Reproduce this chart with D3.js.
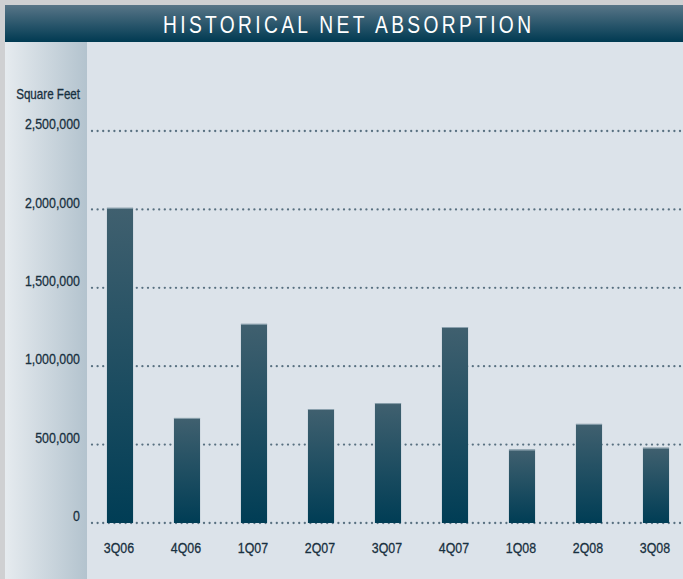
<!DOCTYPE html>
<html>
<head>
<meta charset="utf-8">
<script src="https://cdn.jsdelivr.net/npm/d3@7"></script>
<style>
  html, body { margin: 0; padding: 0; background: #cfd0d2; }
  svg { display: block; }
</style>
</head>
<body>
<div id="chart"></div>
<script>
(function drawAbsorption() {
    const quarters = ["3Q06", "4Q06", "1Q07", "2Q07", "3Q07", "4Q07", "1Q08", "2Q08", "3Q08"];
    const absorption = [2010000, 670000, 1270000, 727000, 765000, 1250000, 468000, 632000, 480000];
    const tickValues = [0, 500000, 1000000, 1500000, 2000000, 2500000];

    const width = 683;
    const height = 579;
    const font = "'Liberation Sans', Arial, sans-serif";
    const narrow = 0.8;
    const textColor = "#183040";

    const svg = d3.select("#chart").append("svg")
        .attr("width", width)
        .attr("height", height);

    const defs = svg.append("defs");

    const titleGrad = defs.append("linearGradient")
        .attr("id", "title-grad").attr("x1", 0).attr("y1", 0).attr("x2", 0).attr("y2", 1);
    titleGrad.append("stop").attr("offset", "0%").attr("stop-color", "#587587");
    titleGrad.append("stop").attr("offset", "100%").attr("stop-color", "#003a52");

    const sideGrad = defs.append("linearGradient")
        .attr("id", "side-grad").attr("x1", 0).attr("y1", 0).attr("x2", 1).attr("y2", 0);
    sideGrad.append("stop").attr("offset", "0%").attr("stop-color", "#e6ebef");
    sideGrad.append("stop").attr("offset", "100%").attr("stop-color", "#b3c3ce");

    const barGrad = defs.append("linearGradient")
        .attr("id", "bar-grad").attr("x1", 0).attr("y1", 0).attr("x2", 0).attr("y2", 1);
    barGrad.append("stop").attr("offset", "0%").attr("stop-color", "#40606f");
    barGrad.append("stop").attr("offset", "100%").attr("stop-color", "#003d55");

    // narrow text, like the condensed face of the original
    function label(parent, x, y, str, size, anchor) {
        return parent.append("text")
            .attr("transform", `translate(${x},${y}) scale(${narrow},1)`)
            .attr("text-anchor", anchor)
            .attr("fill", textColor)
            .attr("stroke", textColor)
            .attr("stroke-width", 0.3)
            .attr("font-family", font)
            .attr("font-size", size)
            .text(str);
    }

    // panels
    svg.append("rect").attr("x", 5).attr("y", 5).attr("width", width - 5).attr("height", height - 5)
        .attr("fill", "#dce3ea");
    svg.append("rect").attr("x", 5).attr("y", 42).attr("width", 82).attr("height", height - 42)
        .attr("fill", "url(#side-grad)");
    svg.append("rect").attr("x", 5).attr("y", 5).attr("width", width - 5).attr("height", 37)
        .attr("fill", "url(#title-grad)");

    label(svg, 163, 32.5, "HISTORICAL NET ABSORPTION", 24, "start")
        .attr("fill", "#ffffff")
        .attr("stroke", "none")
        .attr("textLength", 368 / narrow)
        .attr("lengthAdjust", "spacing");

    const x = d3.scaleBand().domain(quarters).range([86.5, 689.5]).paddingInner(0.61).paddingOuter(0.305);
    const y = d3.scaleLinear().domain([0, 2500000]).range([523, 131]);
    const fmt = d3.format(",");

    // dotted gridlines
    const grid = svg.append("g");
    tickValues.forEach(v => {
        grid.selectAll(null)
            .data(d3.range(92, width, 5.6))
            .enter()
            .append("circle")
            .attr("cx", d => d)
            .attr("cy", y(v))
            .attr("r", 1.15)
            .attr("fill", "#587080");
    });

    // y labels
    const yLabels = svg.append("g");
    tickValues.forEach(v => label(yLabels, 80, y(v) - 1.8, fmt(v), 15.5, "end"));

    label(svg, 80, 99, "Square Feet", 14.5, "end");

    // bars
    svg.append("g").selectAll("rect")
        .data(quarters)
        .enter()
        .append("rect")
        .attr("x", d => x(d))
        .attr("y", (d, i) => y(absorption[i]))
        .attr("width", x.bandwidth())
        .attr("height", (d, i) => y(0) - y(absorption[i]))
        .attr("fill", "url(#bar-grad)");

    svg.append("g").selectAll("line")
        .data(quarters)
        .enter()
        .append("line")
        .attr("x1", d => x(d))
        .attr("x2", d => x(d) + x.bandwidth())
        .attr("y1", (d, i) => y(absorption[i]) + 0.5)
        .attr("y2", (d, i) => y(absorption[i]) + 0.5)
        .attr("stroke", "#8aa0ad")
        .attr("stroke-width", 1);

    // x labels
    const xLabels = svg.append("g");
    quarters.forEach(q => label(xLabels, x(q) + x.bandwidth() / 2 - 1, 553.3, q, 15.5, "middle"));
}());
</script>
</body>
</html>
